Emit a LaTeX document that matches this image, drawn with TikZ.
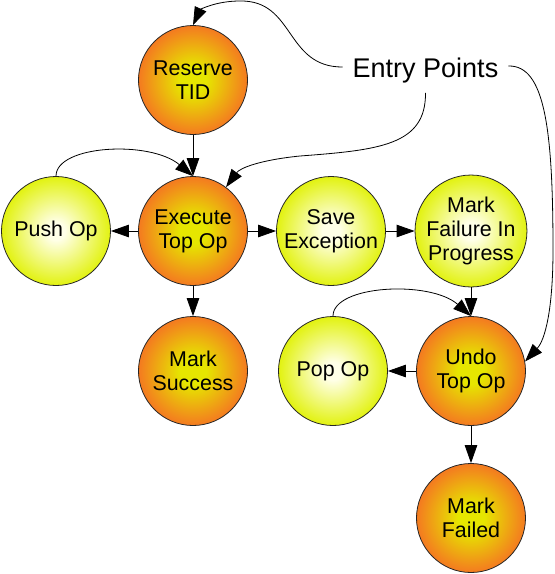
\documentclass[tikz,border=0pt]{standalone}
\usepackage{fontspec}
\setmainfont{Liberation Sans}
\usetikzlibrary{arrows.meta}
\definecolor{oin}{RGB}{230,230,0}
\definecolor{oout}{RGB}{244,122,32}
\definecolor{yin}{RGB}{255,255,232}
\definecolor{yout}{RGB}{226,242,16}
\pgfdeclareradialshading{orangeball}{\pgfpoint{0bp}{0bp}}{color(0bp)=(oin); color(6bp)=(oin); color(25bp)=(oout); color(50bp)=(oout)}
\pgfdeclareradialshading{yellowball}{\pgfpoint{0bp}{0bp}}{color(0bp)=(yin); color(4bp)=(yin); color(25bp)=(yout); color(50bp)=(yout)}
\begin{document}
\begin{tikzpicture}[x=1pt,y=1pt,
  ball/.style={circle, draw=black!85, line width=0.8pt, minimum size=109pt, inner sep=0pt, align=center, font=\fontsize{21.4}{24}\selectfont},
  oball/.style={ball, shading=orangeball},
  yball/.style={ball, shading=yellowball},
  conn/.style={-{Triangle[length=18pt,width=12.5pt]}, line width=0.8pt}]
\useasboundingbox (0,0) rectangle (555,-574);

\node[oball] (reserve) at (193,-80) {Reserve\\TID};
\node[oball] (exec) at (193,-231) {Execute\\Top Op};
\node[yball] (push) at (56,-231) {Push Op};
\node[yball] (save) at (331,-231) {Save\\Exception};
\node[yball] (mfip) at (471,-231) {Mark\\Failure In\\Progress};
\node[oball] (success) at (193,-371) {Mark\\Success};
\node[yball] (pop) at (333,-371) {Pop Op};
\node[oball] (undo) at (471,-371) {Undo\\Top Op};
\node[oball] (failed) at (471,-518) {Mark\\Failed};

\node[anchor=base, inner sep=10pt, font=\fontsize{27}{30}\selectfont] (ep) at (425.5,-77) {Entry Points};

\draw[conn] ([yshift=3pt]ep.west) .. controls (285,-67) and (295,0) .. (240,-1) .. controls (215,-1) and (200,-10) .. (reserve.north);
\draw[conn] (ep.south) .. controls (426,-145) and (380,-150) .. (300,-156) .. controls (260,-160) and (240,-168) .. (exec.53);
\draw[conn] ([yshift=4pt]ep.east) .. controls (545,-65) and (553,-130) .. (553,-250) .. controls (553,-310) and (545,-340) .. (undo.10);

\draw[conn] (reserve) -- (exec);
\draw[conn] (push.north) .. controls (56,-145) and (150,-140) .. (exec.north);
\draw[conn] (exec) -- (push);
\draw[conn] (exec) -- (save);
\draw[conn] (exec) -- (success);
\draw[conn] (save) -- (mfip);
\draw[conn] (mfip) -- (undo);
\draw[conn] (pop.north) .. controls (333,-285) and (430,-280) .. (undo.north);
\draw[conn] (undo) -- (pop);
\draw[conn] (undo) -- (failed);
\end{tikzpicture}
\end{document}
